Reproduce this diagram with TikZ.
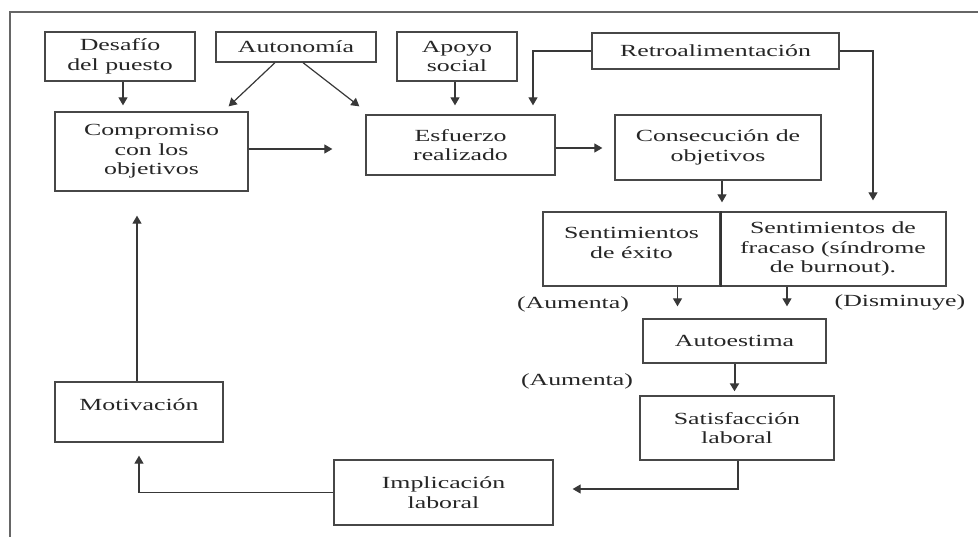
\documentclass[tikz,border=0pt]{standalone}
\usepackage{fontspec}
\setmainfont{Liberation Serif}[FakeStretch=1.52]
\usetikzlibrary{arrows.meta}
\begin{document}
\begin{tikzpicture}[x=1pt,y=-1pt,
  font=\fontsize{17}{19.5}\selectfont,
  every node/.style={text=black!85},
  box/.style 2 args={draw=black!72, line width=1.3pt, rectangle, align=center, inner sep=0pt,
     minimum width=#1, minimum height=#2},
  lbl/.style={inner sep=0pt},
  arr/.style={draw=black!78, line width=1.2pt, -{Triangle[length=8pt,width=9pt]}}]
\path[use as bounding box] (0,0) rectangle (978,536);
\begin{scope}
\clip (0,0) rectangle (978,536);
\draw[black!60, line width=2pt] (10,12) rectangle (995,560);
\end{scope}

\node[box={150pt}{49pt}] (desafio) at (120,56.5) {Desafío\\del puesto};
\node[box={160pt}{30pt}] (autonomia) at (296,47) {Autonomía};
\node[box={120pt}{49pt}] (apoyo) at (457,56.5) {Apoyo\\social};
\node[box={247pt}{36pt}] (retro) at (715.5,51) {Retroalimentación};
\node[box={193pt}{79pt}] (compromiso) at (151.5,151.5) {Compromiso\\con los\\objetivos};
\node[box={189pt}{60pt}] (esfuerzo) at (460.5,145) {Esfuerzo\\realizado};
\node[box={206pt}{65pt}] (consecucion) at (718,147.5) {Consecución de\\objetivos};
\node[box={177pt}{74pt}, text depth=12pt] (exito) at (631.5,249) {Sentimientos\\de éxito};
\node[box={226pt}{74pt}] (fracaso) at (833,249) {Sentimientos de\\fracaso (síndrome\\de burnout).};
\draw[black!80, line width=2.2pt] (exito.north east) -- (exito.south east);
\node[box={183pt}{44pt}] (autoestima) at (734.5,341) {Autoestima};
\node[box={194pt}{64pt}] (satisfaccion) at (737,428) {Satisfacción\\laboral};
\node[box={219pt}{65pt}] (implicacion) at (443.5,492.5) {Implicación\\laboral};
\node[box={168pt}{60pt}, text depth=15pt] (motivacion) at (139,412) {Motivación};

\node[lbl] (aum1) at (573,304) {(Aumenta)};
\node[lbl] (dism) at (900,302) {(Disminuye)};
\node[lbl] (aum2) at (577,381) {(Aumenta)};

\draw[arr, shorten >=6pt] ([xshift=3pt]desafio.south) -- ([xshift=3pt]desafio.south |- compromiso.north);
\draw[arr] ([xshift=-21pt]autonomia.south) -- ([xshift=-20pt,yshift=5pt]compromiso.north east);
\draw[arr] ([xshift=7pt]autonomia.south) -- ([xshift=-6pt,yshift=8pt]esfuerzo.north west);
\draw[arr, shorten >=9pt] ([xshift=-2pt]apoyo.south) -- ([xshift=-2pt]apoyo.south |- esfuerzo.north);
\draw[arr, shorten >=9pt] (retro.west) -| ([xshift=72.5pt]esfuerzo.north);
\draw[arr, shorten >=11pt] (retro.east) -| ([xshift=40pt]fracaso.north);
\draw[arr, shorten >=33pt] ([yshift=2.5pt]compromiso.east) -- ([yshift=2.5pt]compromiso.east -| esfuerzo.west);
\draw[arr, shorten >=12pt] ([yshift=-3pt]esfuerzo.east) -- ([yshift=-3pt]esfuerzo.east -| consecucion.west);
\draw[arr, shorten >=9pt] ([xshift=4pt]consecucion.south) -- ([xshift=4pt]consecucion.south |- exito.north);
\draw[arr, shorten >=12pt] ([xshift=46pt]exito.south) -- ([xshift=46pt]exito.south |- autoestima.north);
\draw[arr, shorten >=12pt] ([xshift=-46pt]fracaso.south) -- ([xshift=-46pt]fracaso.south |- autoestima.north);
\draw[arr, line width=2pt, shorten >=4pt] (autoestima.south) -- (autoestima.south |- satisfaccion.north);
\draw[arr, shorten >=19pt] ([xshift=1pt]satisfaccion.south) |- ([yshift=3.5pt]implicacion.east);
\draw[arr, shorten >=13pt] (implicacion.west) -| (motivacion.south);
\draw[arr, shorten >=24pt] ([xshift=-2pt]motivacion.north) -- ([xshift=-2pt]motivacion.north |- compromiso.south);
\end{tikzpicture}
\end{document}
